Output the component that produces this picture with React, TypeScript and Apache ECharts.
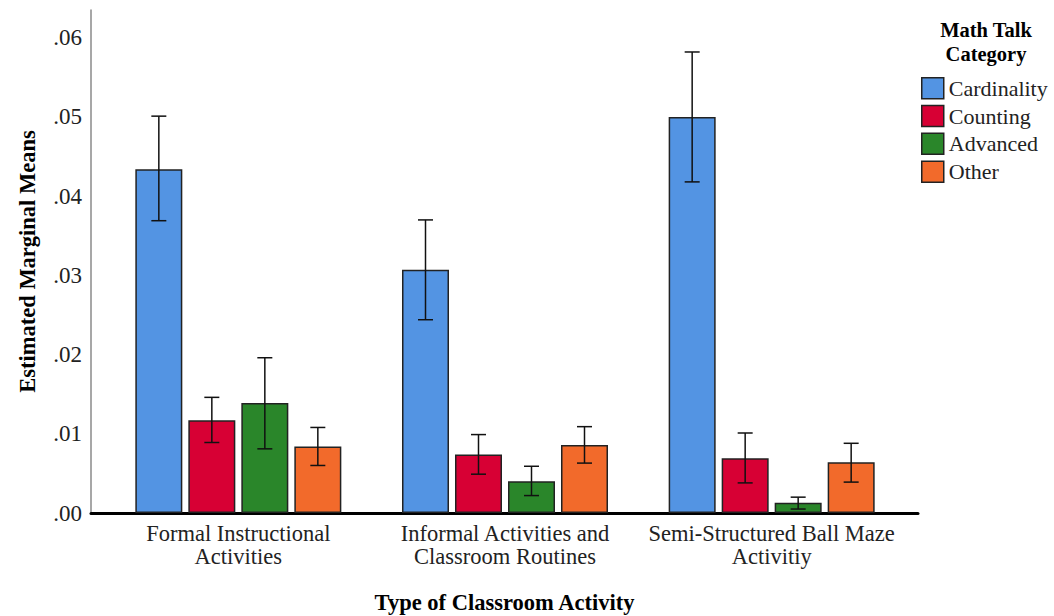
import React, { useEffect, useRef } from 'react';
import * as echarts from 'echarts';

const categories = [
  'Formal Instructional\nActivities',
  'Informal Activities and\nClassroom Routines',
  'Semi-Structured Ball Maze\nActivitiy',
];
const seriesNames = ['Cardinality', 'Counting', 'Advanced', 'Other'];
const seriesColors = ['#5394e3', '#d70034', '#2a862a', '#f26a2b'];

const cardinality = [0.0434, 0.0307, 0.0500];
const counting = [0.0117, 0.0074, 0.0069];
const advanced = [0.0139, 0.0040, 0.0013];
const other = [0.0084, 0.0086, 0.0064];

// 95% CI [low, high]
const cardinalityCI = [[0.0369, 0.0501], [0.0244, 0.0370], [0.0418, 0.0582]];
const countingCI = [[0.0089, 0.0146], [0.0049, 0.0099], [0.0038, 0.0101]];
const advancedCI = [[0.0081, 0.0196], [0.0022, 0.0059], [0.0005, 0.0020]];
const otherCI = [[0.0060, 0.0108], [0.0063, 0.0109], [0.0039, 0.0088]];

const legendTitle = ['Math Talk', 'Category'];

const yMin = 0;
const yMax = 0.0635;
const yInterval = 0.01;

const FONT = '"Liberation Serif", "Times New Roman", serif';
const BAR_W = 47;
const BAR_GAP = 6;
const CAP = 7.5;

export default function App() {
  const ref = useRef<HTMLDivElement>(null);

  useEffect(() => {
    if (!ref.current) return;
    const chart = echarts.init(ref.current, undefined, { renderer: 'svg' });
    const values = [cardinality, counting, advanced, other];
    const cis = [cardinalityCI, countingCI, advancedCI, otherCI];

    const errData: number[][] = [];
    cis.forEach((ci, s) => ci.forEach((p, c) => errData.push([c, p[0], p[1], s])));

    const barSeries = seriesNames.map((name, i) => ({
      name,
      type: 'bar',
      xAxisIndex: 0,
      yAxisIndex: 0,
      data: values[i],
      barWidth: BAR_W,
      barGap: ((BAR_GAP / BAR_W) * 100).toFixed(2) + '%',
      itemStyle: { color: seriesColors[i], borderColor: '#222', borderWidth: 1.5 },
      z: 2,
    }));

    const titleStyle = {
      align: 'center',
      verticalAlign: 'top',
      fontSize: 20.5,
      fontWeight: 'bold',
      lineHeight: 20.5,
      fill: '#000',
      fontFamily: FONT,
    };

    const option: any = {
      animation: false,
      backgroundColor: '#fff',
      textStyle: { fontFamily: FONT },
      grid: [
        { left: 105, top: 10, width: 800, height: 503, outerBoundsMode: 'none' },
        { left: 91, top: 10, width: 827, height: 503, outerBoundsMode: 'none' },
      ],
      xAxis: [
        {
          type: 'category',
          gridIndex: 0,
          data: categories,
          axisLine: { show: false },
          axisTick: { show: false },
          axisLabel: {
            margin: 9,
            fontSize: 22.5,
            lineHeight: 23,
            color: '#222',
            fontFamily: FONT,
            interval: 0,
          },
        },
        {
          type: 'value',
          gridIndex: 1,
          min: 0,
          max: 1,
          axisLine: { show: true, lineStyle: { color: '#000', width: 3 } },
          axisTick: { show: false },
          axisLabel: { show: false },
          splitLine: { show: false },
          name: 'Type of Classroom Activity',
          nameLocation: 'middle',
          nameGap: 78,
          nameTextStyle: { fontSize: 22.5, fontWeight: 'bold', color: '#000', fontFamily: FONT },
        },
      ],
      yAxis: [
        {
          type: 'value',
          gridIndex: 0,
          min: yMin,
          max: yMax,
          show: false,
          splitLine: { show: false },
        },
        {
          type: 'value',
          gridIndex: 1,
          min: yMin,
          max: yMax,
          interval: yInterval,
          axisLine: { show: true, lineStyle: { color: '#8a8a8a', width: 1.5 } },
          axisTick: { show: false },
          splitLine: { show: false },
          axisLabel: {
            margin: 9,
            fontSize: 23,
            color: '#222',
            fontFamily: FONT,
            showMaxLabel: false,
            formatter: (v: number) => (v > yMax - 0.001 ? '' : v.toFixed(2).replace(/^0/, '')),
          },
          name: 'Estimated Marginal Means',
          nameLocation: 'middle',
          nameGap: 52,
          nameTextStyle: { fontSize: 22.5, fontWeight: 'bold', color: '#000', fontFamily: FONT },
        },
      ],
      legend: {
        data: seriesNames,
        orient: 'vertical',
        left: 921,
        top: 77,
        padding: 0,
        itemWidth: 22,
        itemHeight: 21,
        itemGap: 5.3,
        icon: 'rect',
        itemStyle: { borderColor: '#222', borderWidth: 1.5 },
        textStyle: { fontSize: 22, color: '#222', fontFamily: FONT },
        selectedMode: false,
      },
      graphic: [
        { type: 'text', x: 986, y: 20, style: { ...titleStyle, text: legendTitle[0] } },
        { type: 'text', x: 986, y: 44, style: { ...titleStyle, text: legendTitle[1] } },
      ],
      series: [
        ...barSeries,
        {
          name: 'errorbars',
          type: 'custom',
          xAxisIndex: 0,
          yAxisIndex: 0,
          data: errData,
          encode: { x: 0, y: [1, 2] },
          z: 5,
          renderItem: (_params: any, api: any) => {
            const c = api.value(0);
            const lo = api.value(1);
            const hi = api.value(2);
            const s = api.value(3);
            const off = (s - 1.5) * (BAR_W + BAR_GAP);
            const pLo = api.coord([c, lo]);
            const pHi = api.coord([c, hi]);
            const x = pLo[0] + off;
            const style = { stroke: '#111', lineWidth: 1.5 };
            return {
              type: 'group',
              children: [
                { type: 'line', shape: { x1: x, y1: pHi[1], x2: x, y2: pLo[1] }, style },
                { type: 'line', shape: { x1: x - CAP, y1: pHi[1], x2: x + CAP, y2: pHi[1] }, style },
                { type: 'line', shape: { x1: x - CAP, y1: pLo[1], x2: x + CAP, y2: pLo[1] }, style },
              ],
            };
          },
        },
      ],
    };

    chart.setOption(option);
    return () => chart.dispose();
  }, []);

  return (
    <div
      ref={ref}
      style={{ position: 'fixed', left: 0, top: 0, width: 1054, height: 616, background: '#fff' }}
    />
  );
}
